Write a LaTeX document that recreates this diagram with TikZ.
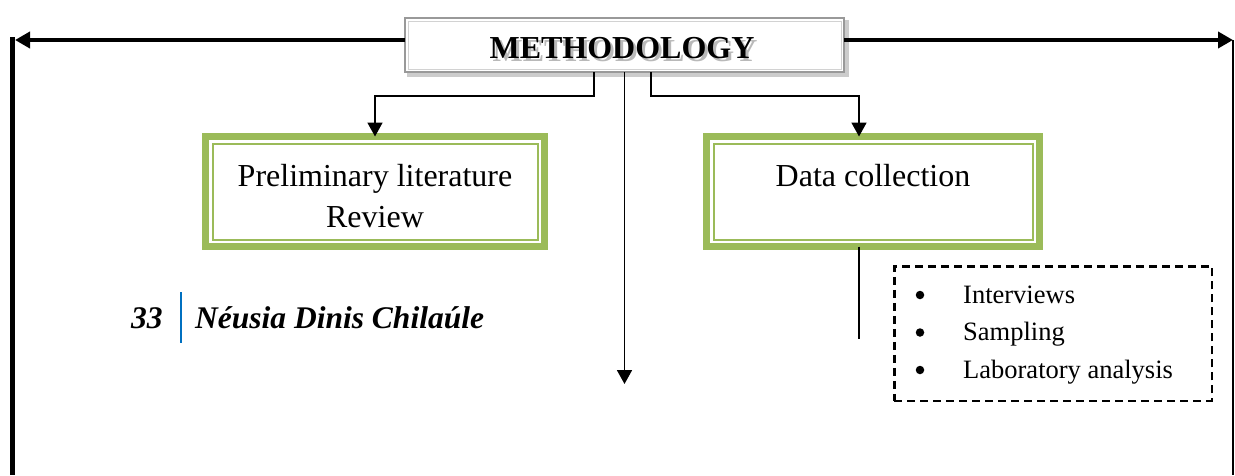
\documentclass[tikz,border=0pt]{standalone}
\usepackage{fontspec}
\setmainfont{Liberation Serif}
\usetikzlibrary{arrows.meta}
\definecolor{ogreen}{HTML}{9BBB59}
\definecolor{oblue}{HTML}{0070C0}
\begin{document}
\begin{tikzpicture}[x=1pt,y=-1pt,
  conn/.style={line width=1.8pt},
  tipped/.style={-{Triangle[length=14pt,width=15pt]}},
  bigtip/.style={-{Triangle[length=15pt,width=16pt]}},
  greenbox/.style={draw=ogreen, line width=7pt, minimum width=#1, minimum height=110pt, inner sep=0pt, outer sep=0pt},
  greeninner/.style={draw=ogreen, line width=2pt},
  boxtext/.style={font=\fontsize{32}{40}\selectfont, align=center},
  itemtext/.style={font=\fontsize{26.5}{30}\selectfont, inner sep=0pt},
  bulletdot/.style={circle, fill=black, minimum size=8.5pt, inner sep=0pt},
  authortext/.style={font=\fontsize{31.5}{36}\selectfont\bfseries\itshape, inner sep=0pt}
]
\useasboundingbox (0,0) rectangle (1235,475);

% METHODOLOGY box with shadow
\fill[gray!40] (407,20) rectangle (849,77);
\node[draw=gray!80, line width=2pt, fill=white, minimum width=439pt, minimum height=54pt, inner sep=0pt, outer sep=0pt] (meth) at (624.5,45) {};
\draw[gray!35, line width=1pt] ([shift={(3,3)}]meth.north west) rectangle ([shift={(-3,-3)}]meth.south east);
\node[anchor=base, font=\fontsize{32}{36}\selectfont\bfseries, inner sep=0pt] (methtext) at (622,58)
  {\makebox[0pt][l]{\hspace{3pt}\raisebox{-3pt}{\color{gray!55}METHODOLOGY}}METHODOLOGY};

% outer frame lines
\coordinate (ltip) at (15,40);
\coordinate (rtip) at (1233,40);
\coordinate (ltop) at (12,37);
\coordinate (lbot) at (12,475);
\coordinate (rtop) at (1233,40);
\coordinate (rbot) at (1233,475);
\draw[line width=4pt, bigtip] ([yshift=5pt]meth.west) -- (ltip);
\draw[line width=4pt, bigtip] ([yshift=5pt]meth.east) -- (rtip);
\draw[line width=5pt] (ltop) -- (lbot);
\draw[line width=2pt] (rtop) -- (rbot);

% green boxes
\node[greenbox=339pt] (pbox) at (375,191.5) {};
\draw[greeninner] ([shift={(7,7)}]pbox.north west) rectangle ([shift={(-7,-7)}]pbox.south east);
\node[boxtext, anchor=base] (ptext1) at (375,186) {Preliminary literature};
\node[boxtext, anchor=base] (ptext2) at (375,227) {Review};

\node[greenbox=333pt] (dcol) at (873,191.5) {};
\draw[greeninner] ([shift={(7,7)}]dcol.north west) rectangle ([shift={(-7,-7)}]dcol.south east);
\node[boxtext, anchor=base] (dtext) at (873,186) {Data collection};

% connectors from METHODOLOGY
\draw[conn, tipped] ([xshift=-30.5pt]meth.south) -- ++(0,24) -| (pbox.north);
\draw[conn, tipped] ([xshift=26.5pt]meth.south) -- ++(0,24) -| ([xshift=-14pt]dcol.north);
\coordinate (midend) at (624.5,384);
\draw[conn, tipped] (meth.south) -- (midend);

% data collection stem
\coordinate (dend) at (859,339);
\draw[conn] ([xshift=-14pt]dcol.south) -- (dend);

% dashed list box
\node[draw, line width=2.5pt, dash pattern=on 8pt off 5pt, minimum width=317.5pt, minimum height=134.5pt, inner sep=0pt] (dbox) at (1053,333.5) {};
\node[bulletdot] (b1) at (920,295) {};
\node[bulletdot] (b2) at (920,332.5) {};
\node[bulletdot] (b3) at (920,370) {};
\node[itemtext, anchor=base west] (i1) at (963,303) {Interviews};
\node[itemtext, anchor=base west] (i2) at (963,340.5) {Sampling};
\node[itemtext, anchor=base west] (i3) at (963,378) {Laboratory analysis};

% author footer
\node[authortext, anchor=base west] (pnum) at (131,328) {33};
\draw[oblue, line width=2pt] (181,292) -- (181,343);
\node[authortext, anchor=base west] (author) at (195,328) {Néusia Dinis Chilaúle};
\end{tikzpicture}
\end{document}
